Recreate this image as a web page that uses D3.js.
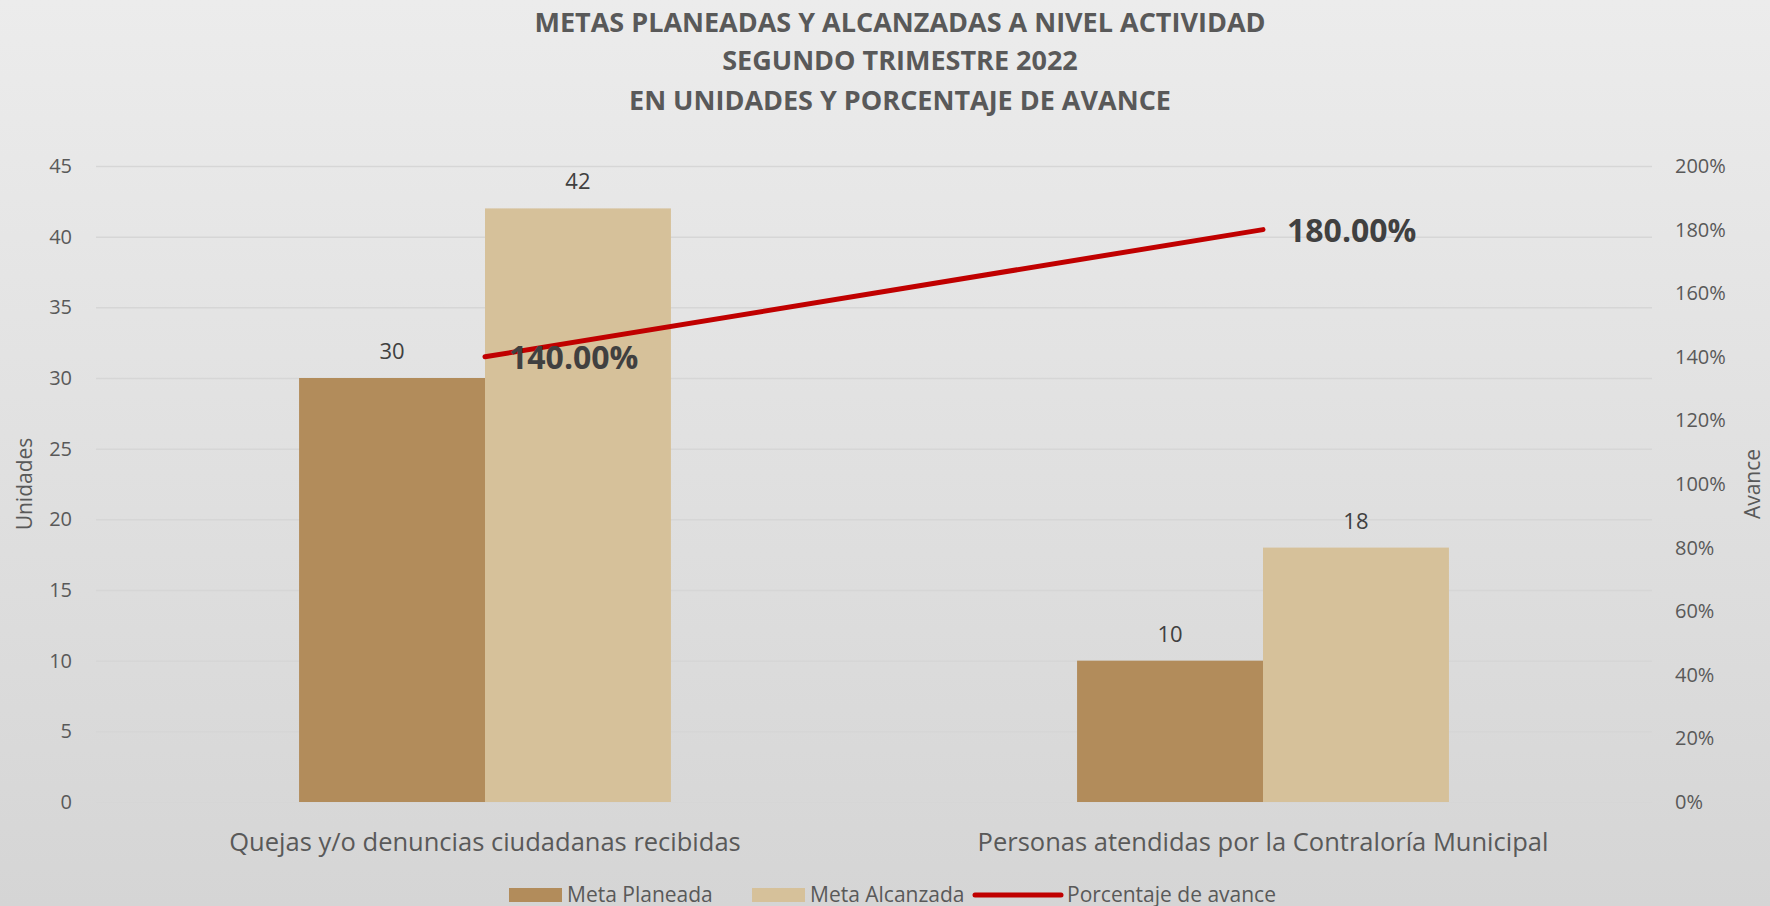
<!DOCTYPE html>
<html>
<head>
<meta charset="utf-8">
<script src="https://cdn.jsdelivr.net/npm/d3@7"></script>
<style>
  html, body { margin: 0; padding: 0; overflow: hidden; }
  svg { display: block; font-family: "Open Sans", sans-serif; }
</style>
</head>
<body>
<div id="chart"></div>
<script>
var categories = ["Quejas y/o denuncias ciudadanas recibidas", "Personas atendidas por la Contraloría Municipal"];
var seriesNames = ["Meta Planeada", "Meta Alcanzada"];
var metaPlaneada = [30, 10];
var metaAlcanzada = [42, 18];
var avance = [1.40, 1.80];
var avanceLabels = ["140.00%", "180.00%"];
var leftTicks = [0, 5, 10, 15, 20, 25, 30, 35, 40, 45];
var rightTicks = [0, 0.2, 0.4, 0.6, 0.8, 1.0, 1.2, 1.4, 1.6, 1.8, 2.0];
var titleLines = ["METAS PLANEADAS Y ALCANZADAS A NIVEL ACTIVIDAD", "SEGUNDO TRIMESTRE 2022", "EN UNIDADES Y PORCENTAJE DE AVANCE"];

var width = 1770, height = 906;
var colors = { "Meta Planeada": "#b28c5b", "Meta Alcanzada": "#d6c19a" };
var lineColor = "#c00000";

var svg = d3.select("#chart").append("svg")
    .attr("width", width)
    .attr("height", height);

// background
var grad = svg.append("defs").append("linearGradient")
    .attr("id", "bg").attr("x1", 0).attr("y1", 0).attr("x2", 0).attr("y2", 1);
grad.append("stop").attr("offset", "0%").attr("stop-color", "#ececec");
grad.append("stop").attr("offset", "100%").attr("stop-color", "#d5d5d5");
svg.append("rect").attr("width", width).attr("height", height).attr("fill", "url(#bg)");

var plot = { left: 96, right: 1652, top: 166, bottom: 802 };

var y = d3.scaleLinear().domain([0, 45]).range([plot.bottom, plot.top]);
var y2 = d3.scaleLinear().domain([0, 2]).range([plot.bottom, plot.top]);

var x0 = d3.scaleBand().domain(categories)
    .range([plot.left, plot.right])
    .paddingInner(0.522).paddingOuter(0.261);
var x1 = d3.scaleBand().domain(seriesNames).range([0, x0.bandwidth()]);

// gridlines
svg.append("g")
    .attr("transform", "translate(" + plot.left + ",0)")
    .call(d3.axisLeft(y).tickValues(leftTicks).tickSize(-(plot.right - plot.left)).tickFormat(""))
    .call(function(g) { g.select(".domain").remove(); })
    .selectAll("line").attr("stroke", "#d6d6d6").attr("stroke-width", 1.5);

// left axis labels
var leftAxis = svg.append("g")
    .attr("transform", "translate(" + plot.left + ",0)")
    .call(d3.axisLeft(y).tickValues(leftTicks).tickSize(0).tickPadding(24));
leftAxis.select(".domain").remove();
leftAxis.selectAll("text").attr("font-size", 20).attr("fill", "#595959").attr("font-family", "Open Sans");

// right axis labels
var rightAxis = svg.append("g")
    .attr("transform", "translate(" + plot.right + ",0)")
    .call(d3.axisRight(y2).tickValues(rightTicks).tickSize(0).tickPadding(23).tickFormat(d3.format(".0%")));
rightAxis.select(".domain").remove();
rightAxis.selectAll("text").attr("font-size", 20).attr("fill", "#595959").attr("font-family", "Open Sans");

// x axis labels
var xAxis = svg.append("g")
    .attr("transform", "translate(0," + plot.bottom + ")")
    .call(d3.axisBottom(x0).tickSize(0).tickPadding(31));
xAxis.select(".domain").remove();
xAxis.selectAll("text").attr("font-size", 25.5).attr("fill", "#595959").attr("font-family", "Open Sans");

// axis titles
svg.append("text")
    .attr("transform", "translate(32," + (plot.top + plot.bottom) / 2 + ") rotate(-90)")
    .attr("text-anchor", "middle")
    .attr("font-size", 21).attr("fill", "#595959")
    .text("Unidades");
svg.append("text")
    .attr("transform", "translate(1760," + (plot.top + plot.bottom) / 2 + ") rotate(-90)")
    .attr("text-anchor", "middle")
    .attr("font-size", 21).attr("fill", "#595959")
    .text("Avance");

// bars
var rows = categories.map(function(c, i) {
    return { cat: c, values: [
        { name: "Meta Planeada", value: metaPlaneada[i] },
        { name: "Meta Alcanzada", value: metaAlcanzada[i] }
    ] };
});

var groups = svg.selectAll(".grp").data(rows).enter().append("g")
    .attr("class", "grp")
    .attr("transform", function(d) { return "translate(" + x0(d.cat) + ",0)"; });

groups.selectAll("rect").data(function(d) { return d.values; }).enter().append("rect")
    .attr("x", function(d) { return x1(d.name); })
    .attr("y", function(d) { return y(d.value); })
    .attr("width", x1.bandwidth())
    .attr("height", function(d) { return y(0) - y(d.value); })
    .attr("fill", function(d) { return colors[d.name]; });

groups.selectAll(".val").data(function(d) { return d.values; }).enter().append("text")
    .attr("class", "val")
    .attr("x", function(d) { return x1(d.name) + x1.bandwidth() / 2; })
    .attr("y", function(d) { return y(d.value) - 19; })
    .attr("text-anchor", "middle")
    .attr("font-size", 22).attr("fill", "#404040")
    .text(function(d) { return d.value; });

// line
var linePts = categories.map(function(c, i) { return { cat: c, v: avance[i], label: avanceLabels[i] }; });
var line = d3.line()
    .x(function(d) { return x0(d.cat) + x0.bandwidth() / 2; })
    .y(function(d) { return y2(d.v); });
svg.append("path").datum(linePts)
    .attr("d", line)
    .attr("fill", "none")
    .attr("stroke", lineColor)
    .attr("stroke-width", 5)
    .attr("stroke-linecap", "round");

svg.selectAll(".pct").data(linePts).enter().append("text")
    .attr("class", "pct")
    .attr("x", function(d) { return x0(d.cat) + x0.bandwidth() / 2 + 24; })
    .attr("y", function(d) { return y2(d.v) + 12; })
    .attr("font-size", 32).attr("font-weight", "bold").attr("fill", "#404040")
    .text(function(d) { return d.label; });

// title
svg.selectAll(".title").data(titleLines).enter().append("text")
    .attr("class", "title")
    .attr("x", 900)
    .attr("y", function(d, i) { return [32, 70, 110][i]; })
    .attr("text-anchor", "middle")
    .attr("font-size", 27).attr("font-weight", "bold").attr("fill", "#595959")
    .text(function(d) { return d; });

// legend
var legendItems = [
    { name: "Meta Planeada", type: "rect", x: 509 },
    { name: "Meta Alcanzada", type: "rect", x: 752 },
    { name: "Porcentaje de avance", type: "line", x: 973 }
];
var legend = svg.append("g").attr("transform", "translate(0,895)");
legendItems.forEach(function(it) {
    if (it.type === "rect") {
        legend.append("rect").attr("x", it.x).attr("y", -7).attr("width", 53).attr("height", 14)
            .attr("fill", colors[it.name]);
    } else {
        legend.append("line").attr("x1", it.x + 2).attr("x2", it.x + 88).attr("y1", 0).attr("y2", 0)
            .attr("stroke", lineColor).attr("stroke-width", 5).attr("stroke-linecap", "round");
    }
    legend.append("text")
        .attr("x", it.x + (it.type === "rect" ? 58 : 94))
        .attr("y", 7)
        .attr("font-size", 21).attr("fill", "#595959")
        .text(it.name);
});
</script>
</body>
</html>
